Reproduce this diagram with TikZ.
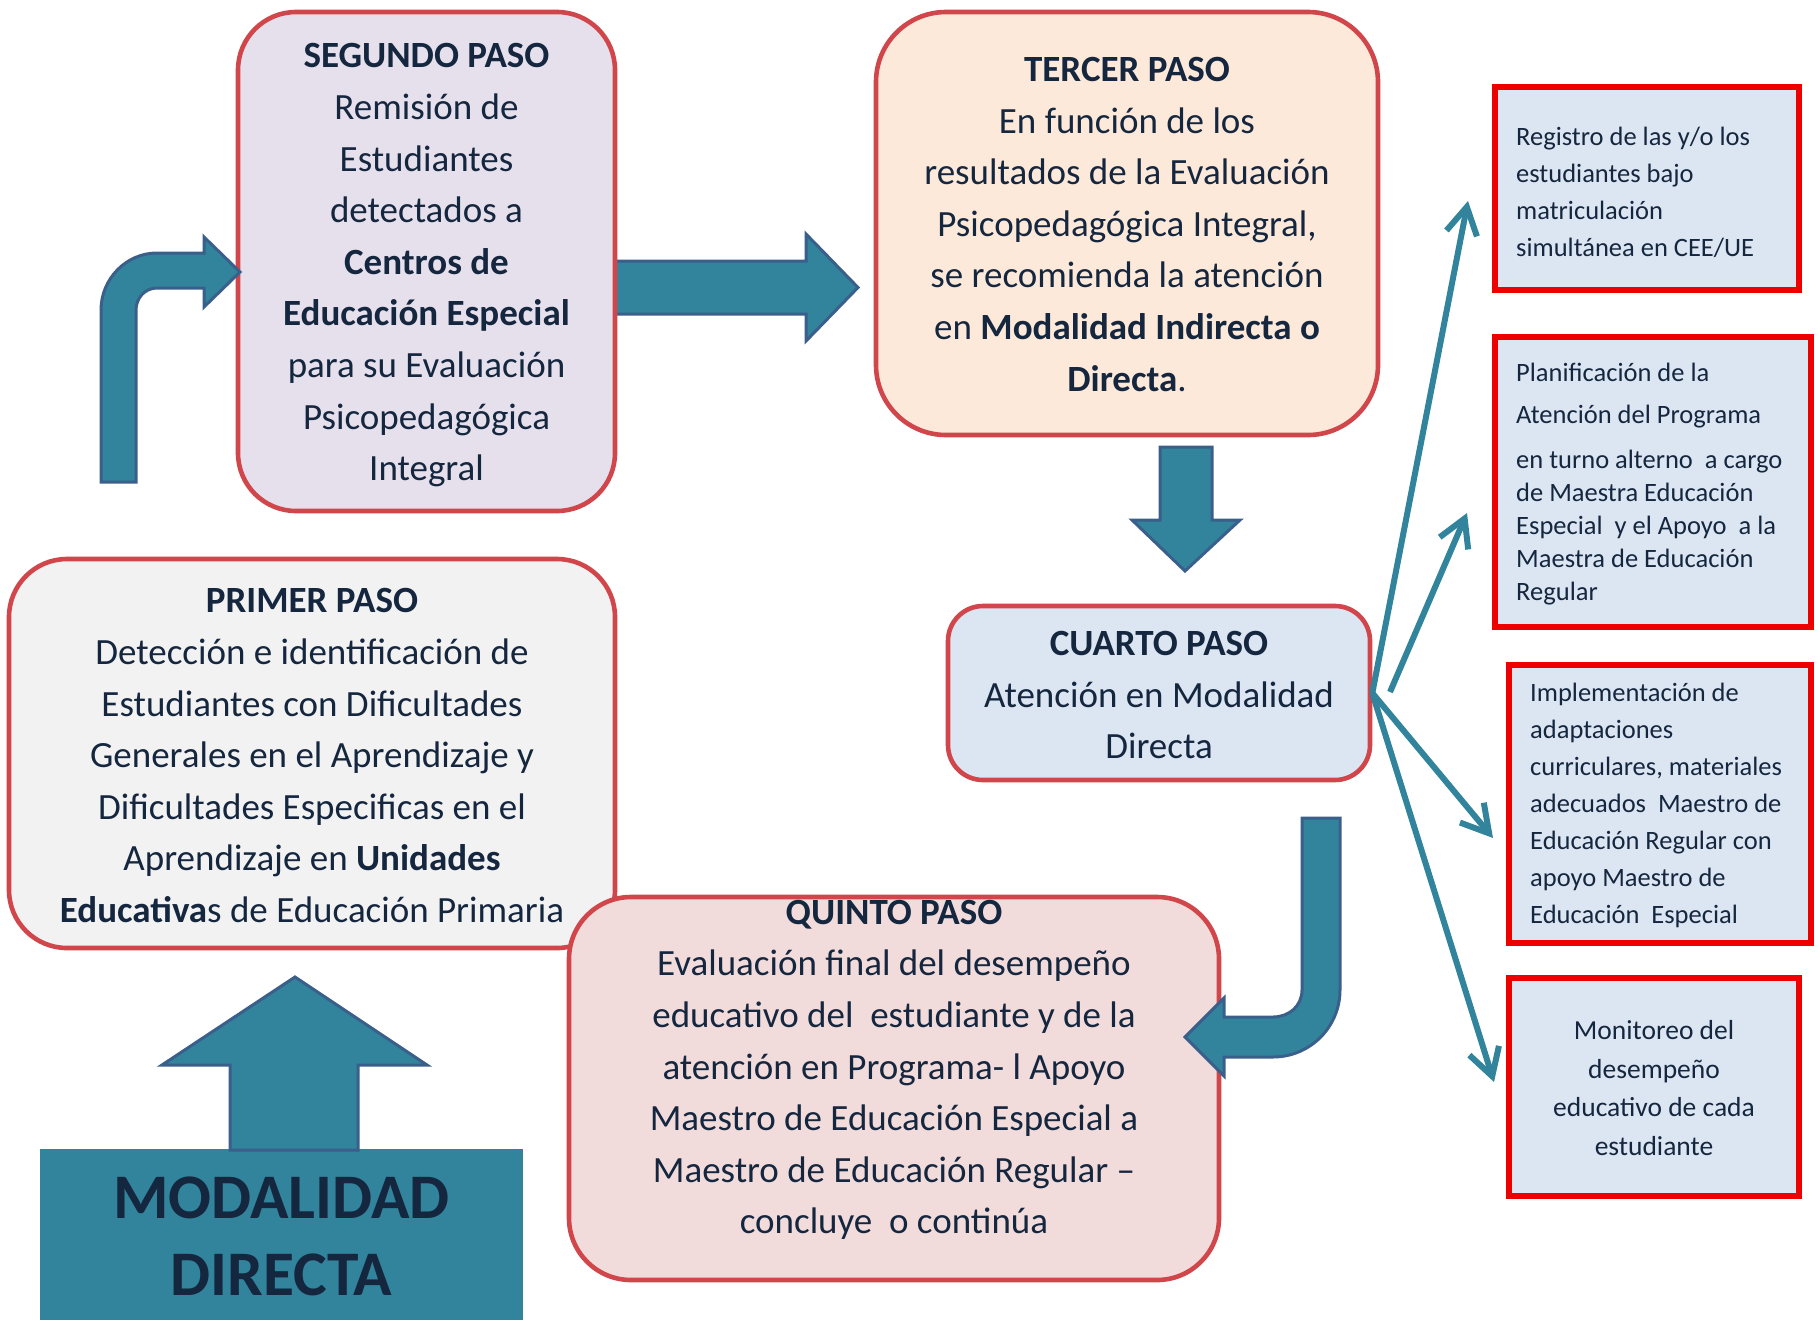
\documentclass[tikz,border=0pt]{standalone}
\usepackage{fontspec}
\setmainfont{Carlito}
\usetikzlibrary{arrows.meta}
\definecolor{txt}{HTML}{15263F}
\definecolor{boxred}{HTML}{D0464B}
\definecolor{pure}{HTML}{EE0000}
\definecolor{segfill}{HTML}{E6E0EC}
\definecolor{terfill}{HTML}{FDE9D9}
\definecolor{cuafill}{HTML}{DCE6F2}
\definecolor{prifill}{HTML}{F2F2F2}
\definecolor{quifill}{HTML}{F2DCDB}
\definecolor{teal}{HTML}{31849B}
\definecolor{tealedge}{HTML}{3A5F8B}
\begin{document}
\begin{tikzpicture}[x=1pt,y=-1pt,
  stepbox/.style={draw=boxred, line width=4.6pt, rounded corners=#1, align=center,
    text=txt, font=\fontsize{37}{51.6}\selectfont, inner sep=0pt},
  sidebox/.style={draw=pure, line width=6pt, fill=cuafill, inner sep=0pt},
  sidetext/.style={text=txt, inner sep=0pt, align=left, anchor=west,
    font=\fontsize{26.5}{37}\selectfont},
  blockarrow/.style={fill=teal, draw=tealedge, line width=3pt, line join=miter},
  thinarrow/.style={draw=teal, line width=6pt,
    -{Straight Barb[length=27pt,width=31pt,line width=6pt]}},
  bigtext/.style={text=txt, font=\fontsize{63.5}{77}\selectfont\bfseries, align=center}]
\useasboundingbox (0,0) rectangle (1820,1320);

% arrow from second to third step
\filldraw[blockarrow] (614,261) -- (806,261) -- (806,234) -- (858,287.5) -- (806,341)
  -- (806,314) -- (614,314) -- cycle;

% step boxes
\node[stepbox=58, fill=segfill, minimum width=377, minimum height=499] (seg) at (426.5,261.5)
  {\rule{0pt}{32pt}\textbf{SEGUNDO PASO}\\ Remisión de\\ Estudiantes\\ detectados a\\ \textbf{Centros de}\\
   \textbf{Educación Especial}\\ para su Evaluación\\ Psicopedagógica\\ Integral};
\node[stepbox=70, fill=terfill, minimum width=502, minimum height=423] (ter) at (1127,223.5)
  {\rule{0pt}{26pt}\textbf{TERCER PASO}\\ En función de los\\ resultados de la Evaluación\\
   Psicopedagógica Integral,\\ se recomienda la atención\\
   en \textbf{Modalidad Indirecta o}\\ \textbf{Directa}.};
\node[stepbox=35, fill=cuafill, minimum width=422, minimum height=174] (cua) at (1159,693)
  {\rule{0pt}{28.5pt}\textbf{CUARTO PASO}\\ Atención en Modalidad\\ Directa};
\node[stepbox=58, fill=prifill, minimum width=606, minimum height=389] (pri) at (312,753.5)
  {\rule{0pt}{28.5pt}\textbf{PRIMER PASO}\\ Detección e identificación de\\ Estudiantes con Dificultades\\
   Generales en el Aprendizaje y\\ Dificultades Especificas en el\\
   Aprendizaje en \textbf{Unidades}\\ \textbf{Educativa}s de Educación Primaria};
\node[stepbox=62, fill=quifill, minimum width=650, minimum height=383] (qui) at (894,1088.5) {};

% side boxes
\node[sidebox, minimum width=304, minimum height=203] (r1) at (1647,188.5) {};
\node[sidetext] (r1t) at ([xshift=24pt,yshift=-4pt]r1.west)
  {Registro de las y/o los\\ estudiantes bajo\\ matriculación\\ simultánea en CEE/UE};
\node[sidebox, minimum width=316, minimum height=290] (r2) at (1653,482) {};
\node[sidetext, font=\fontsize{26.5}{33}\selectfont] (r2t) at ([xshift=24pt,yshift=-2pt]r2.west)
  {Planificación de la\\[9pt] Atención del Programa\\[12pt] en turno alterno\ \ a cargo\\
   de Maestra Educación\\ Especial\ \ y el Apoyo\ \ a la\\ Maestra de Educación\\ Regular};
\node[sidebox, minimum width=302, minimum height=278] (r3) at (1660,804) {};
\node[sidetext] (r3t) at ([xshift=24pt,yshift=-1pt]r3.west)
  {Implementación de\\ adaptaciones\\ curriculares, materiales\\ adecuados\ \ Maestro de\\
   Educación Regular con\\ apoyo Maestro de\\ Educación\ \ Especial};
\node[sidebox, minimum width=290, minimum height=218] (r4) at (1654,1087) {};
\node[sidetext, anchor=center, align=center, font=\fontsize{27.5}{38.5}\selectfont] (r4t)
  at ([yshift=-1pt]r4.center)
  {Monitoreo del\\ desempeño\\ educativo de cada\\ estudiante};

% bent arrow into second step
\filldraw[blockarrow] (101,482) -- (101,310) .. controls (101,279) and (126,253) .. (157,253)
  -- (204,253) -- (204,237) -- (240,272) -- (204,307) -- (204,288) -- (157,288)
  .. controls (145,288) and (136,298) .. (136,310) -- (136,482) -- cycle;

% down arrow third -> fourth
\filldraw[blockarrow] (1160,447) -- (1212,447) -- (1212,520) -- (1240,520) -- (1185,571)
  -- (1132,520) -- (1160,520) -- cycle;

% J arrow into fifth step
\filldraw[blockarrow] (1302,818) -- (1340,818) -- (1340,990)
  .. controls (1340,1027) and (1310,1057) .. (1273,1057) -- (1224,1057) -- (1224,1076)
  -- (1185,1037) -- (1224,998) -- (1224,1017) -- (1273,1017)
  .. controls (1289,1017) and (1302,1006) .. (1302,990) -- cycle;

% modalidad block and up arrow
\node[fill=teal, minimum width=483, minimum height=171, inner sep=0pt] (mod)
  at (281.5,1234.5) {};
\node[bigtext, inner sep=0pt] (modt) at ([yshift=-2pt]mod.center) {MODALIDAD\\ DIRECTA};
\filldraw[blockarrow] (230,1150) -- (230,1065) -- (162,1065) -- (295,977) -- (427,1065)
  -- (358,1065) -- (358,1150) -- cycle;

% fifth step text
\node[align=center, text=txt, font=\fontsize{37}{51.6}\selectfont, inner sep=0pt] (quitxt)
  at (894,1070)
  {\textbf{QUINTO PASO}\\ Evaluación final del desempeño\\ educativo del\ \ estudiante y de la\\
   atención en Programa- l Apoyo\\ Maestro de Educación Especial a\\
   Maestro de Educación Regular –\\ concluye\ \ o continúa};

% thin arrows to side boxes
\coordinate (t1) at (1468,201);
\coordinate (t2) at (1467,513);
\coordinate (t3) at (1493,838);
\coordinate (t4) at (1494,1082);
\coordinate (s2) at (1390,692);
\draw[thinarrow] (cua.east) -- (t1);
\draw[thinarrow] (s2) -- (t2);
\draw[thinarrow] (cua.east) -- (t3);
\draw[thinarrow] (cua.east) -- (t4);
\end{tikzpicture}
\end{document}
